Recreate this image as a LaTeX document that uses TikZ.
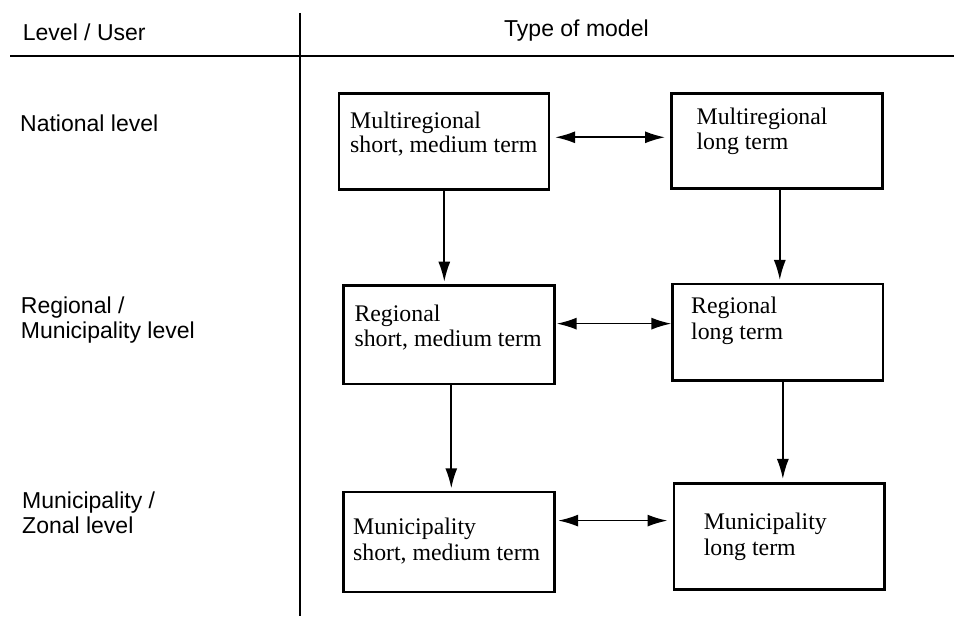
\documentclass[tikz,border=0pt]{standalone}
\usepackage{fontspec}
\setmainfont{Liberation Serif}
\setsansfont{Liberation Sans}
\usetikzlibrary{arrows.meta}
\begin{document}
\begin{tikzpicture}[x=1pt,y=-1pt,
  modelbox/.style={draw=black, line width=2.6pt, rectangle, inner sep=0pt, anchor=north west},
  boxtext/.style={anchor=base west, inner sep=0pt, font=\fontsize{23.8pt}{24.5pt}\selectfont},
  lvltext/.style={anchor=base west, inner sep=0pt, font=\sffamily\fontsize{23pt}{25pt}\selectfont},
  sepline/.style={line width=2.2pt},
  conn/.style={line width=1.7pt, -{Latex[length=20pt,width=12pt]}},
  dblconn/.style={line width=1.7pt, {Latex[length=20pt,width=12pt]}-{Latex[length=20pt,width=12pt]}}
]
\useasboundingbox (0,0) rectangle (954,617);
\fill[white] (0,0) rectangle (954,617);

% separators
\coordinate (vtop) at (300,13);
\coordinate (vbot) at (300,616);
\coordinate (hl) at (10,56);
\coordinate (hr) at (954,56);
\draw[sepline] (vtop) -- (vbot);
\draw[sepline] (hl) -- (hr);

% header texts
\node[lvltext] (hdrL) at (22.7,41) {Level / User};
\node[lvltext] (hdrR) at (504,36.7) {Type of model};

% level labels
\node[lvltext] (lvN) at (20,131.7) {National level};
\node[lvltext] (lvR1) at (20.7,313.3) {Regional /};
\node[lvltext] (lvR2) at (20.7,338.3) {Municipality level};
\node[lvltext] (lvM1) at (22,508.3) {Municipality /};
\node[lvltext] (lvM2) at (22,533.3) {Zonal level};

% boxes
\node[modelbox, minimum width=210pt, minimum height=96pt] (mL) at (337.5,92.3) {};
\node[modelbox, minimum width=211pt, minimum height=95pt] (mR) at (670,92) {};
\node[modelbox, minimum width=211pt, minimum height=98.7pt] (rL) at (342,284) {};
\node[modelbox, minimum width=210.3pt, minimum height=96.3pt] (rR) at (671.4,282.7) {};
\node[modelbox, minimum width=211pt, minimum height=100pt] (uL) at (342,490.7) {};
\node[modelbox, minimum width=210.5pt, minimum height=105.5pt] (uR) at (672.5,482.5) {};

% box texts
\node[boxtext] (mLa) at (350,128.3) {Multiregional};
\node[boxtext] (mLb) at (350,152.7) {short, medium term};
\node[boxtext] (mRa) at (696.4,125) {Multiregional};
\node[boxtext] (mRb) at (696.4,149.5) {long term};
\node[boxtext] (rLa) at (354.3,321.7) {Regional};
\node[boxtext] (rLb) at (354.3,346.7) {short, medium term};
\node[boxtext] (rRa) at (691,314) {Regional};
\node[boxtext] (rRb) at (691,339.5) {long term};
\node[boxtext] (uLa) at (352.9,535) {Municipality};
\node[boxtext] (uLb) at (352.9,560.7) {short, medium term};
\node[boxtext] (uRa) at (703.6,530) {Municipality};
\node[boxtext] (uRb) at (703.6,555) {long term};

% horizontal double arrows
\draw[dblconn, shorten <=5pt, shorten >=5pt] ([yshift=4.3pt]mL.east) -- ([yshift=4.3pt]mL.east -| mR.west);
\draw[dblconn, shorten <=1pt, shorten >=0pt] ([yshift=11pt]rL.east) -- ([yshift=11pt]rL.east -| rR.west);
\draw[dblconn, shorten <=2.5pt, shorten >=5pt] ([yshift=21.4pt]uL.east) -- ([yshift=21.4pt]uL.east -| uR.west);

% vertical arrows
\draw[conn, shorten >=2.3pt] ([xshift=0.5pt]mL.south) -- ([xshift=0.5pt]mL.south |- rL.north);
\draw[conn, shorten >=2.7pt] ([xshift=3pt]mR.south) -- ([xshift=3pt]mR.south |- rR.north);
\draw[conn, shorten >=2.4pt] ([xshift=2.5pt]rL.south) -- ([xshift=2.5pt]rL.south |- uL.north);
\draw[conn, shorten <=-2pt, shorten >=3.5pt] ([xshift=5pt]rR.south) -- ([xshift=5pt]rR.south |- uR.north);
\end{tikzpicture}
\end{document}
